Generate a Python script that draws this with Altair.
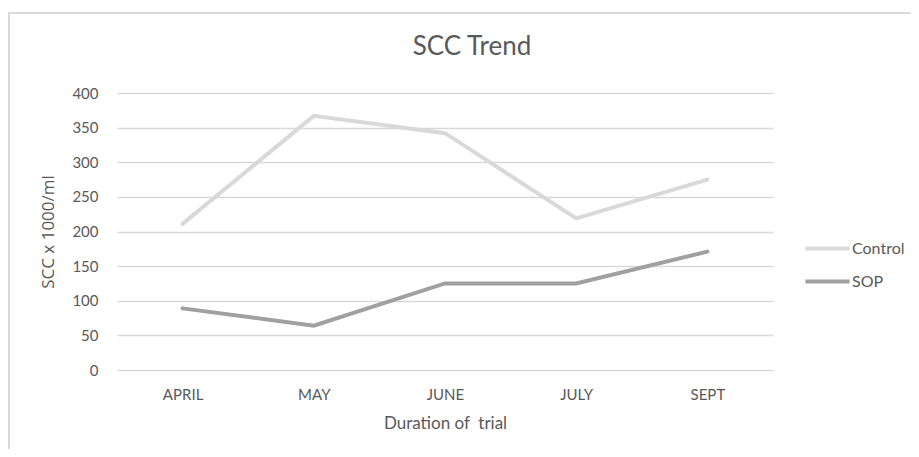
import altair as alt
import pandas as pd

months = ["APRIL", "MAY", "JUNE", "JULY", "SEPT"]
control = [211, 367, 342, 219, 275]
sop = [89, 64, 125, 125, 171]
series_names = ["Control", "SOP"]
series_colors = ["#d9d9d9", "#a0a0a0"]
y_ticks = [0, 50, 100, 150, 200, 250, 300, 350, 400]
chart_title = "SCC Trend"

rows = []
for m, c, s in zip(months, control, sop):
    rows.append({"month": m, "series": "Control", "value": c})
    rows.append({"month": m, "series": "SOP", "value": s})
df = pd.DataFrame(rows)

label_font = "Lato"
text_color = "#595959"

lines = alt.Chart(df).mark_line(strokeWidth=4, strokeCap="round", strokeJoin="miter").encode(
    x=alt.X("month:N", sort=months, scale=alt.Scale(padding=0.5),
            axis=alt.Axis(title="Duration of\u00a0 trial", labelAngle=0, ticks=False, domain=False,
                          labelPadding=17, titlePadding=13, labelFontSize=15, titleFontSize=17,
                          labelFont=label_font, titleFont=label_font,
                          labelColor=text_color, titleColor=text_color, titleFontWeight="normal")),
    y=alt.Y("value:Q", scale=alt.Scale(domain=[0, 400]),
            axis=alt.Axis(title="SCC x 1000/ml", values=y_ticks, ticks=False, domain=False,
                          labelPadding=19, titlePadding=14, labelFontSize=15, titleFontSize=17,
                          labelFont=label_font, titleFont="Open Sans",
                          labelColor=text_color, titleColor=text_color, titleFontWeight="normal",
                          gridColor="#d9d9d9", gridWidth=1.5)),
    color=alt.Color("series:N", scale=alt.Scale(domain=series_names, range=series_colors),
                    legend=alt.Legend(title=None, orient="none", legendX=686, legendY=131,
                                      symbolType="stroke", symbolSize=1950, symbolStrokeWidth=4,
                                      rowPadding=-8, labelFontSize=16, labelFont=label_font,
                                      labelColor=text_color, labelOffset=0)),
)

border = alt.Chart(pd.DataFrame({"k": [0]})).mark_rect(
    fill=None, stroke="#d9d9d9", strokeWidth=2, clip=False
).encode(x=alt.value(-108), x2=alt.value(820), y=alt.value(-80), y2=alt.value(380))

title_text = alt.Chart(pd.DataFrame({"t": [chart_title]})).mark_text(
    font=label_font, fontSize=26, color=text_color, align="center", baseline="middle", clip=False
).encode(x=alt.value(355), y=alt.value(-46), text="t:N")

chart = alt.layer(border, lines, title_text).properties(
    width=656, height=277,
    autosize=alt.AutoSizeParams(type="none"),
    padding={"left": 109, "top": 85, "right": 138, "bottom": 79},
).configure_view(stroke=None).configure_axis(grid=True).configure_axisX(grid=False)

chart.save("out.html", embed_options={"renderer": "svg", "actions": False})
